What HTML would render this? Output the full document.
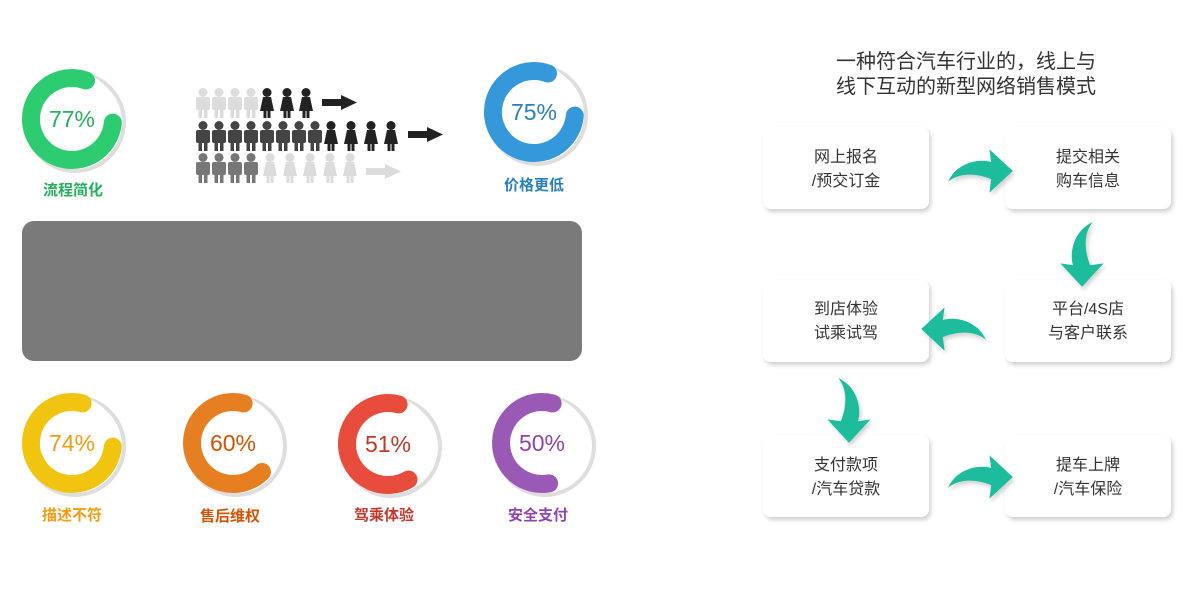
<!DOCTYPE html>
<html><head><meta charset="utf-8"><style>
body{margin:0;width:1200px;height:600px;background:#fff;overflow:hidden;font-family:"Liberation Sans","Noto Sans CJK SC",sans-serif}
</style></head><body>
<svg width="1200" height="600" viewBox="0 0 1200 600" xmlns="http://www.w3.org/2000/svg" font-family="Liberation Sans, Noto Sans CJK SC, sans-serif">
<defs>
<g id="man"><circle cx="7" cy="4.5" r="4.5"/><rect x="0" y="9" width="14" height="13" rx="2"/><rect x="2.5" y="20" width="3.5" height="10"/><rect x="8" y="20" width="3.5" height="10"/></g>
<g id="woman"><circle cx="7" cy="4.5" r="4.5"/><path d="M3 9h8l3 14H0z"/><rect x="3.5" y="21" width="3" height="9"/><rect x="7.5" y="21" width="3" height="9"/></g>
<g id="arr"><rect x="0" y="4" width="20" height="7"/><path d="M19 0L35 7.5L19 15z"/></g>
<filter id="sh" x="-20%" y="-20%" width="140%" height="150%"><feDropShadow dx="2" dy="3" stdDeviation="2" flood-color="#000" flood-opacity="0.18"/></filter>
<g id="carrow"><path d="M0 22 C10 0 35 -4 48 0 L46 -14 L72 10 L46 34 L48 19 C30 12 12 12 0 22z"/></g>
<g id="ring"><circle r="49" fill="none" stroke="#dedede" stroke-width="4" transform="translate(3,3)"/><circle r="47" fill="#fff"/></g>
</defs>

<use href="#ring" x="72" y="119"/><use href="#ring" x="534" y="112"/>
<use href="#ring" x="72" y="443"/><use href="#ring" x="233" y="443"/>
<use href="#ring" x="388" y="444"/><use href="#ring" x="542" y="443"/>
<g fill="none" stroke-width="18" stroke-linecap="round">
<g transform="translate(72,119)"><path d="M14 -38.5 A41 41 0 1 0 40.8 3.6" stroke="#2ecc71"/></g>
<g transform="translate(534,112)"><path d="M14 -38.5 A41 41 0 1 0 40.8 3.6" stroke="#3498db"/></g>
<g transform="translate(72,443)"><path d="M10.6 -39.6 A41 41 0 1 0 40.8 3.6" stroke="#f1c40f"/></g>
<g transform="translate(233,443)"><path d="M10.6 -39.6 A41 41 0 1 0 29 29" stroke="#e67e22"/></g>
<g transform="translate(388,444)"><path d="M10.6 -39.6 A41 41 0 1 0 20.5 35.5" stroke="#e74c3c"/></g>
<g transform="translate(542,443)"><path d="M10.6 -39.6 A41 41 0 1 0 7.1 40.4" stroke="#9b59b6"/></g>
</g>
<g font-size="23" text-anchor="middle">
<text x="72" y="127" fill="#27ae60">77%</text>
<text x="534" y="120" fill="#2980b9">75%</text>
<text x="72" y="451" fill="#f39c12">74%</text>
<text x="233" y="451" fill="#d35400">60%</text>
<text x="388" y="452" fill="#c0392b">51%</text>
<text x="542" y="451" fill="#8e44ad">50%</text>
</g>
<g font-size="15" font-weight="bold" text-anchor="middle">
<text x="73" y="195" fill="#27ae60">流程简化</text>
<text x="534" y="190" fill="#2980b9">价格更低</text>
<text x="72" y="520" fill="#f39c12">描述不符</text>
<text x="230" y="521" fill="#d35400">售后维权</text>
<text x="384" y="520" fill="#c0392b">驾乘体验</text>
<text x="538" y="520" fill="#8e44ad">安全支付</text>
</g>

<g fill="#dcdcdc"><use href="#man" x="196" y="88"/><use href="#man" x="212" y="88"/><use href="#man" x="228" y="88"/><use href="#man" x="244" y="88"/></g>
<g fill="#222"><use href="#woman" x="260" y="88"/><use href="#woman" x="280" y="88"/><use href="#woman" x="299" y="88"/><use href="#arr" x="322" y="95"/></g>
<g fill="#444"><use href="#man" x="196" y="121"/><use href="#man" x="212" y="121"/><use href="#man" x="228" y="121"/><use href="#man" x="244" y="121"/><use href="#man" x="260" y="121"/><use href="#man" x="276" y="121"/><use href="#man" x="292" y="121"/><use href="#man" x="308" y="121"/></g>
<g fill="#222"><use href="#woman" x="324" y="121"/><use href="#woman" x="344" y="121"/><use href="#woman" x="364" y="121"/><use href="#woman" x="384" y="121"/><use href="#arr" x="408" y="127"/></g>
<g fill="#777"><use href="#man" x="196" y="153"/><use href="#man" x="212" y="153"/><use href="#man" x="228" y="153"/><use href="#man" x="244" y="153"/></g>
<g fill="#dcdcdc"><use href="#woman" x="263" y="153"/><use href="#woman" x="283" y="153"/><use href="#woman" x="303" y="153"/><use href="#woman" x="323" y="153"/><use href="#woman" x="343" y="153"/><use href="#arr" x="366" y="164"/></g>

<rect x="22" y="221" width="560" height="140" rx="12" fill="#7a7a7a"/>

<g font-size="20" fill="#333" text-anchor="middle"><text x="966" y="68">一种符合汽车行业的，线上与</text><text x="966" y="93">线下互动的新型网络销售模式</text></g>
<g fill="#fff" filter="url(#sh)">
<rect x="763" y="127" width="166" height="82" rx="8"/><rect x="1005" y="127" width="166" height="82" rx="8"/>
<rect x="763" y="280" width="166" height="82" rx="8"/><rect x="1005" y="280" width="166" height="82" rx="8"/>
<rect x="763" y="435" width="166" height="82" rx="8"/><rect x="1005" y="435" width="166" height="82" rx="8"/>
</g>
<g font-size="16" fill="#333" text-anchor="middle">
<text x="846" y="162">网上报名</text><text x="846" y="186">/预交订金</text>
<text x="1088" y="162">提交相关</text><text x="1088" y="186">购车信息</text>
<text x="846" y="314">到店体验</text><text x="846" y="338">试乘试驾</text>
<text x="1088" y="314">平台/4S店</text><text x="1088" y="338">与客户联系</text>
<text x="846" y="470">支付款项</text><text x="846" y="494">/汽车贷款</text>
<text x="1088" y="470">提车上牌</text><text x="1088" y="494">/汽车保险</text>
</g>
<g fill="#1abc9c" filter="url(#sh)">
<use href="#carrow" transform="translate(948,162) scale(0.9)"/>
<use href="#carrow" transform="translate(948,468) scale(0.9)"/>
<use href="#carrow" transform="translate(986,320) scale(-0.9,0.9)"/>
<use href="#carrow" transform="translate(1073,222) rotate(90) scale(0.9,-0.9)"/>
<use href="#carrow" transform="translate(858,378) rotate(90) scale(0.9)"/>
</g>
</svg>
</body></html>
